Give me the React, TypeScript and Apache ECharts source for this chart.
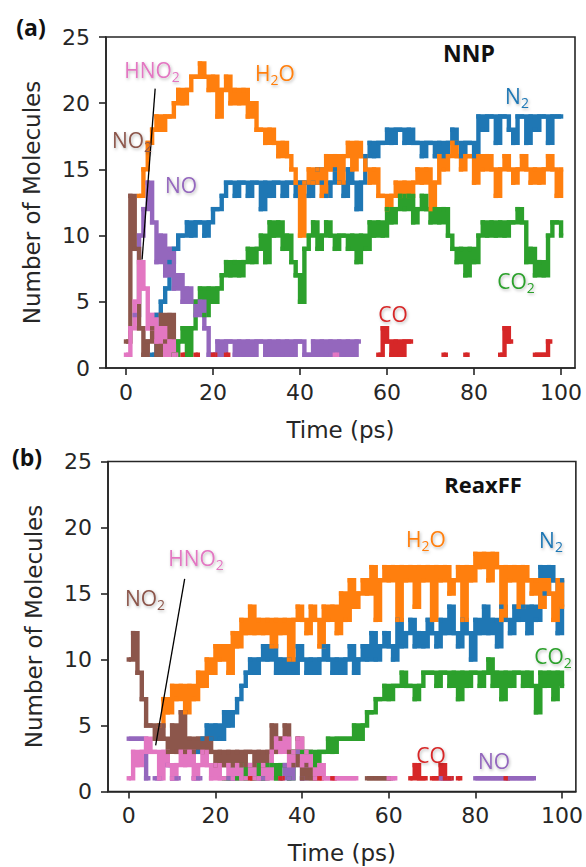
import React, { useEffect, useRef } from 'react';
import * as echarts from 'echarts';

const _ = null;

// time grid (ps), one sample per ps
const TIME: number[] = Array.from({ length: 101 }, (v, i) => i);

// ---------- Panel (a): NNP ----------
const N2_A = [
  _, _, _, _, _, _, 1, 4, 5, 6, 8,
  9, 10, 10, 11, 10, 11, 11, 10, 11, 12,
  12, 13, 14, 14, 13, 14, 14, 13, 14, 14,
  12, 14, 13, 14, 14, 13, 14, 14, 13, 14,
  14, 13, 14, 15, 14, 13, 14, 15, 14, 13,
  15, 14, 12, 14, 16, 17, 16, 17, 17, 18,
  17, 18, 18, 17, 18, 17, 17, 16, 17, 17,
  16, 17, 16, 17, 18, 17, 16, 17, 17, 16,
  19, 18, 19, 19, 17, 19, 19, 18, 17, 19,
  19, 17, 19, 18, 19, 19, 17, 19, 19, 19,
];
const H2O_A = [
  _, _, _, 13, 15, 17, 18, 19, 18, 19, 19,
  20, 21, 20, 21, 22, 22, 23, 22, 21, 22,
  19, 21, 22, 20, 21, 20, 21, 19, 20, 18,
  18, 17, 18, 17, 16, 17, 16, 15, 14, 10,
  14, 15, 14, 15, 13, 16, 15, 16, 14, 16,
  17, 15, 17, 16, 15, 14, 15, 13, 13, 12,
  13, 14, 13, 14, 13, 14, 15, 14, 15, 12,
  14, 16, 15, 16, 17, 16, 15, 16, 16, 14,
  16, 15, 16, 15, 13, 15, 16, 15, 14, 15,
  16, 15, 14, 15, 14, 15, 16, 15, 13, 15,
];
const CO2_A = [
  _, _, _, _, _, _, _, _, _, _, _,
  1, 2, 3, 1, 3, 5, 6, 4, 6, 5,
  6, 7, 8, 7, 8, 7, 8, 9, 8, 9,
  10, 8, 11, 10, 11, 9, 10, 8, 7, 5,
  9, 10, 11, 9, 10, 11, 10, 9, 10, 10,
  9, 10, 8, 10, 9, 11, 10, 11, 10, 12,
  11, 12, 13, 12, 13, 11, 12, 13, 12, 11,
  12, 11, 12, 10, 9, 8, 9, 7, 9, 8,
  10, 11, 10, 11, 10, 11, 10, 11, 11, 12,
  11, 8, 9, 7, 8, 7, 10, 11, 11, 10,
];
const CO_A = [
  _, _, _, _, _, _, _, _, _, _, _,
  _, _, 1, _, _, 1, _, _, _, 1,
  _, _, 1, _, _, _, _, _, _, _,
  _, _, _, _, _, _, _, _, _, _,
  _, _, _, _, _, _, _, _, _, _,
  _, _, _, _, _, _, _, 1, 3, 2,
  1, 2, 1, 2, 2, _, _, _, _, _,
  _, _, 1, _, _, _, _, 1, _, _,
  _, _, _, _, _, 1, 3, 2, _, _,
  _, _, _, 1, 1, 1, 2, _, _, _,
];
const NO_A = [
  _, _, 4, 10, 12, 14, 11, 8, 10, 7, 9,
  6, 7, 5, 6, 5, 4, 5, 3, 1, 1,
  2, 1, 2, 2, 1, 2, 1, 2, 1, 2,
  2, 1, 2, 1, 2, 1, 2, 1, 2, 2,
  1, 1, 2, 1, 2, 1, 2, 1, 2, 1,
  2, 1, 2, _, _, _, _, _, _, _,
  _, _, _, _, _, _, _, _, _, _,
  _, _, _, _, _, _, _, _, _, _,
  _, _, _, _, _, _, _, _, _, _,
  _, _, _, _, _, _, _, _, _, _,
];
const NO2_A = [
  2, 13, 9, 3, 1, 2, 3, 1, 4, 2, 4,
  1, _, _, _, _, _, _, _, _, _,
  _, _, _, _, _, _, _, _, _, _,
  _, _, _, _, _, _, _, _, _, _,
  _, _, _, _, _, _, _, _, _, _,
  _, _, _, _, _, _, _, _, _, _,
  _, _, _, _, _, _, _, _, _, _,
  _, _, _, _, _, _, _, _, _, _,
  _, _, _, _, _, _, _, _, _, _,
  _, _, _, _, _, _, _, _, _, _,
];
const HNO2_A = [
  1, 3, 5, 8, 6, 3, 4, 2, 3, 1, 2,
  1, _, _, _, _, _, _, _, _, _,
  _, _, _, _, _, _, _, _, _, _,
  _, _, _, _, _, _, _, _, _, _,
  _, _, _, _, _, _, _, 1, _, _,
  _, _, _, _, _, _, _, _, _, _,
  _, _, _, _, _, _, _, _, _, _,
  _, _, _, _, _, _, _, _, _, _,
  _, _, _, _, _, _, _, _, _, _,
  _, _, _, _, _, _, _, _, _, _,
];

// ---------- Panel (b): ReaxFF ----------
const N2_B = [
  _, _, _, _, _, _, _, _, _, _, _,
  _, _, _, _, _, 3, 4, 5, 4, 5,
  4, 6, 5, 6, 7, 8, 9, 10, 9, 10,
  11, 10, 11, 9, 10, 9, 10, 9, 11, 10,
  9, 10, 9, 10, 11, 10, 9, 10, 9, 10,
  11, 9, 10, 11, 10, 12, 10, 11, 12, 11,
  10, 13, 11, 12, 13, 11, 12, 11, 13, 12,
  11, 13, 12, 14, 12, 11, 13, 12, 10, 13,
  12, 14, 12, 13, 11, 14, 13, 12, 14, 13,
  14, 12, 14, 13, 17, 15, 17, 16, 12, 16,
];
const H2O_B = [
  _, _, _, _, _, _, _, 5, 7, 6, 8,
  7, 8, 6, 8, 7, 9, 8, 10, 9, 11,
  10, 11, 9, 12, 11, 13, 12, 14, 12, 13,
  12, 13, 11, 13, 12, 13, 10, 13, 14, 13,
  12, 14, 13, 11, 14, 13, 14, 12, 15, 13,
  16, 14, 15, 16, 15, 17, 13, 16, 17, 16,
  17, 13, 17, 16, 17, 14, 17, 16, 17, 13,
  17, 16, 17, 15, 16, 17, 13, 17, 16, 18,
  17, 18, 16, 18, 17, 13, 17, 16, 17, 14,
  17, 16, 15, 16, 14, 16, 15, 13, 16, 14,
];
const CO2_B = [
  _, _, _, _, _, _, _, _, _, _, _,
  _, _, _, _, _, _, _, _, _, _,
  _, 1, 1, 2, 1, 2, 1, 2, 1, 2,
  1, 2, 2, 1, 2, 2, 1, 3, 3, 3,
  3, 3, 2, 3, 3, 4, 3, 4, 4, 4,
  4, 5, 4, 5, 6, 6, 7, 7, 8, 7,
  8, 8, 9, 8, 8, 7, 8, 9, 9, 9,
  8, 9, 9, 8, 9, 7, 9, 8, 9, 9,
  8, 9, 10, 8, 9, 7, 9, 8, 9, 9,
  8, 9, 8, 6, 9, 8, 9, 7, 9, 8,
];
const CO_B = [
  _, _, _, _, _, _, _, _, _, _, _,
  _, _, _, _, _, _, _, _, _, _,
  _, _, _, _, _, _, _, 1, _, _,
  _, _, _, _, 1, _, _, _, _, _,
  _, _, _, 1, _, _, 1, _, _, _,
  _, _, _, _, _, _, _, _, _, _,
  _, _, _, _, 1, 2, 1, 1, _, 1,
  1, 2, 1, 1, _, 1, _, _, _, _,
  _, _, _, _, _, _, 1, _, _, _,
  _, _, _, _, _, _, _, _, _, _,
];
const NO_B = [
  4, 4, 4, 4, 1, _, 1, 1, _, 2, 1,
  1, _, _, _, 1, 1, _, _, _, _,
  _, _, 1, 1, _, _, _, _, _, 1,
  1, _, _, _, 1, 2, 1, 2, 3, 1,
  2, _, _, _, _, _, _, _, _, _,
  _, _, _, _, _, _, _, _, _, _,
  _, _, _, _, _, _, _, _, _, _,
  _, 1, 1, 1, _, _, _, _, _, 1,
  1, 1, 1, 1, 1, 1, 1, 1, 1, 1,
  1, 1, 1, _, _, _, _, _, _, _,
];
const NO2_B = [
  10, 12, 9, 7, 5, 5, 4, 5, 4, 3, 5,
  3, 6, 3, 4, 3, 4, 3, 4, 3, 2,
  3, 2, 3, 2, 3, 2, 3, 3, 2, 3,
  2, 3, 5, 3, 4, 5, 3, 2, 4, 1,
  2, 1, 1, _, _, _, _, _, _, _,
  _, _, _, _, 1, 1, 1, 1, 1, 1,
  _, _, _, _, _, _, _, _, _, _,
  _, _, _, _, _, _, _, _, _, _,
  _, _, _, _, _, _, _, _, _, _,
  _, _, _, _, _, _, _, _, _, _,
];
const HNO2_B = [
  1, 3, 2, 3, 4, 3, 3, 1, 3, 2, 1,
  2, 3, 2, 3, 1, 2, 3, 2, 1, 2,
  1, 1, 2, 1, 2, 1, 1, 2, 1, 1,
  2, 1, 3, 4, 3, 4, 2, 3, 4, 2,
  3, 2, 1, 2, 1, 1, 1, 1, 1, 1,
  1, 1, _, _, _, _, _, _, _, 1,
  1, _, _, _, _, _, _, _, _, _,
  _, _, _, _, _, _, _, _, _, _,
  _, _, _, _, _, _, _, _, _, _,
  _, _, _, _, _, _, _, _, _, _,
];

const X_TICKS = [0, 20, 40, 60, 80, 100];

const C = {
  N2: '#1f77b4',
  H2O: '#ff7f0e',
  CO2: '#2ca02c',
  CO: '#d62728',
  NO: '#9467bd',
  NO2: '#8c564b',
  HNO2: '#e377c2',
};

const INK = '#262626';
const AXFONT = 'DejaVu Sans';
const LBLFONT = '"Open Sans", "Noto Sans", sans-serif';
const LW = 4.4;

function mk(name: string, vals: (number | null)[], color: string, idx: number, extra: any = {}) {
  return {
    type: 'line',
    name,
    xAxisIndex: idx,
    yAxisIndex: idx,
    data: vals.map((v, i) => [TIME[i], v]),
    step: 'end',
    connectNulls: false,
    showSymbol: true,
    showAllSymbol: true,
    symbol: 'rect',
    symbolSize: [LW, LW],
    itemStyle: { color },
    lineStyle: { color, width: LW, join: 'miter' },
    emphasis: { disabled: true },
    silent: true,
    animation: false,
    ...extra,
  };
}

function pointer(a: number[], b: number[]) {
  return {
    silent: true,
    symbol: ['none', 'none'],
    label: { show: false },
    lineStyle: { color: '#000', width: 1.3, type: 'solid' },
    emphasis: { disabled: true },
    data: [[{ coord: a }, { coord: b }]],
  };
}

function xAx(idx: number, min: number, max: number) {
  return {
    gridIndex: idx,
    type: 'value',
    min,
    max,
    axisLine: { show: true, onZero: false, lineStyle: { color: INK, width: 1.6 } },
    axisTick: { show: true, length: 7, customValues: X_TICKS, lineStyle: { color: INK, width: 1.6 } },
    axisLabel: { customValues: X_TICKS, fontSize: 22, color: INK, fontFamily: AXFONT, margin: 13 },
    splitLine: { show: false },
    name: 'Time (ps)',
    nameLocation: 'middle',
    nameGap: 50,
    nameTextStyle: { fontSize: 23, fontFamily: AXFONT, color: INK },
  };
}

function yAx(idx: number) {
  return {
    gridIndex: idx,
    type: 'value',
    min: 0,
    max: 25,
    interval: 5,
    axisLine: { show: true, onZero: false, lineStyle: { color: INK, width: 1.6 } },
    axisTick: { show: true, length: 7, lineStyle: { color: INK, width: 1.6 } },
    axisLabel: { fontSize: 22, color: INK, fontFamily: AXFONT, margin: 16 },
    splitLine: { show: false },
    name: 'Number of Molecules',
    nameLocation: 'middle',
    nameGap: 63,
    nameRotate: 90,
    nameTextStyle: { fontSize: 23, fontFamily: AXFONT, color: INK },
  };
}

// species label; parts alternate normal / subscript
function lbl(parts: string[], x: number, y: number, fill: string) {
  const text = parts.map((p, i) => (i % 2 === 0 ? `{a|${p}}` : `{s|${p}}`)).join('');
  const shadow = {
    textShadowColor: 'rgba(0,0,0,0.28)',
    textShadowBlur: 3,
    textShadowOffsetX: 1,
    textShadowOffsetY: 1.5,
  };
  return {
    type: 'text',
    x,
    y,
    z: 10,
    silent: true,
    style: {
      text,
      fill,
      fontSize: 21,
      fontFamily: LBLFONT,
      align: 'center',
      verticalAlign: 'middle',
      rich: {
        a: { fontSize: 21, fontFamily: LBLFONT, fill, ...shadow },
        s: { fontSize: 14, fontFamily: LBLFONT, fill, verticalAlign: 'bottom', padding: [12, 0, 0, 0], ...shadow },
      },
    },
  };
}

function bold(text: string, x: number, y: number, size: number) {
  return {
    type: 'text',
    x,
    y,
    z: 10,
    silent: true,
    style: {
      text,
      fill: '#111',
      fontSize: size,
      fontWeight: 'bold',
      fontFamily: '"Open Sans", "Noto Sans", sans-serif',
      align: 'center',
      verticalAlign: 'middle',
    },
  };
}

export default function App() {
  const ref = useRef<HTMLDivElement>(null);
  useEffect(() => {
    if (!ref.current) return;
    const chart = echarts.init(ref.current, undefined, { renderer: 'svg' });
    const option: any = {
      animation: false,
      backgroundColor: '#fff',
      grid: [
        { left: 106, top: 37, width: 469, height: 331, show: true, borderColor: INK, borderWidth: 1.6, backgroundColor: 'transparent' },
        { left: 108, top: 461.5, width: 469, height: 330, show: true, borderColor: INK, borderWidth: 1.6, backgroundColor: 'transparent' },
      ],
      xAxis: [xAx(0, -4.6, 103.2), xAx(1, -4.8, 103.2)],
      yAxis: [yAx(0), yAx(1)],
      series: [
        mk('N2', N2_A, C.N2, 0),
        mk('H2O', H2O_A, C.H2O, 0),
        mk('CO2', CO2_A, C.CO2, 0),
        mk('NO', NO_A, C.NO, 0),
        mk('NO2', NO2_A, C.NO2, 0),
        mk('HNO2', HNO2_A, C.HNO2, 0, { markLine: pointer([6.7, 21.1], [3.7, 8.2]) }),
        mk('CO', CO_A, C.CO, 0),
        mk('N2', N2_B, C.N2, 1),
        mk('H2O', H2O_B, C.H2O, 1),
        mk('CO2', CO2_B, C.CO2, 1),
        mk('NO', NO_B, C.NO, 1),
        mk('NO2', NO2_B, C.NO2, 1),
        mk('HNO2', HNO2_B, C.HNO2, 1, { markLine: pointer([12.9, 16.1], [6.2, 3.5]) }),
        mk('CO', CO_B, C.CO, 1),
      ],
      graphic: [
        bold('(a)', 31, 27, 23),
        bold('(b)', 27, 457, 23),
        bold('NNP', 469, 53, 23),
        bold('ReaxFF', 483, 484, 22),
        lbl(['HNO', '2'], 152, 70, C.HNO2),
        lbl(['H', '2', 'O'], 275, 73, C.H2O),
        lbl(['NO', '2'], 132, 140, C.NO2),
        lbl(['NO'], 181, 185, C.NO),
        lbl(['N', '2'], 517, 96, C.N2),
        lbl(['CO', '2'], 516, 281, C.CO2),
        lbl(['CO'], 393, 314, C.CO),
        lbl(['HNO', '2'], 196, 558, C.HNO2),
        lbl(['NO', '2'], 145, 598, C.NO2),
        lbl(['H', '2', 'O'], 426, 539, C.H2O),
        lbl(['N', '2'], 551, 540, C.N2),
        lbl(['CO', '2'], 553, 656, C.CO2),
        lbl(['CO'], 431, 755, C.CO),
        lbl(['NO'], 494, 761, C.NO),
      ],
    };
    chart.setOption(option);
    return () => chart.dispose();
  }, []);
  return (
    <div
      ref={ref}
      style={{ position: 'absolute', left: 0, top: 0, width: 586, height: 867, background: '#fff' }}
    />
  );
}
